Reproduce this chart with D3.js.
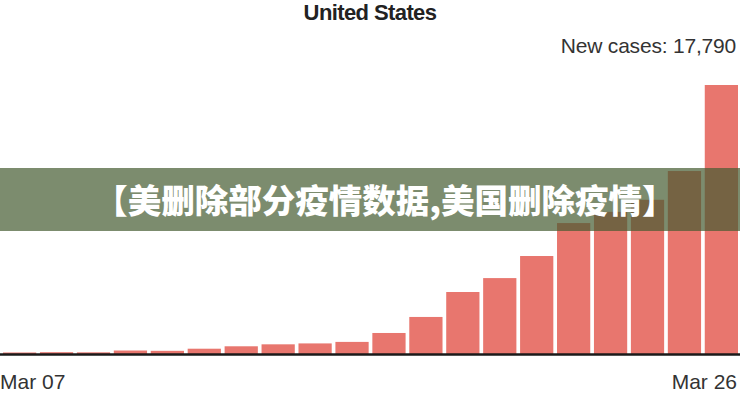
<!DOCTYPE html>
<html>
<head>
<meta charset="utf-8">
<script src="https://cdn.jsdelivr.net/npm/d3@7/dist/d3.min.js"></script>
<style>
  html, body { margin: 0; padding: 0; background: #fff; }
  svg { display: block; }
</style>
</head>
<body>
<svg id="chart" width="740" height="400"></svg>
<script>
const dates = ["Mar 07","Mar 08","Mar 09","Mar 10","Mar 11","Mar 12","Mar 13","Mar 14","Mar 15","Mar 16",
               "Mar 17","Mar 18","Mar 19","Mar 20","Mar 21","Mar 22","Mar 23","Mar 24","Mar 25","Mar 26"];
const newCases = [100, 120, 110, 230, 210, 350, 510, 640, 700, 800,
                  1390, 2450, 4100, 5020, 6480, 8660, 9400, 10200, 12100, 17790];
const axisLabels = ["Mar 07", "Mar 26"];
const titleText = "United States";
const annotationText = "New cases: 17,790";
const bannerText = "【美删除部分疫情数据,美国删除疫情】";

const svg = d3.select("#chart");
const W = 740, H = 400;
const baseY = 354, topY = 85;

const x = d3.scaleBand().domain(dates).range([3, 738]).paddingInner(0.1).paddingOuter(0);
const y = d3.scaleLinear().domain([0, d3.max(newCases)]).range([baseY, topY]);

svg.append("g").selectAll("rect")
  .data(dates.map((d, i) => ({ date: d, value: newCases[i] })))
  .join("rect")
  .attr("x", d => x(d.date))
  .attr("width", x.bandwidth())
  .attr("y", d => y(d.value))
  .attr("height", d => baseY - y(d.value))
  .attr("fill", "#e8766e");

svg.append("line")
  .attr("x1", 0).attr("x2", W)
  .attr("y1", baseY + 0.5).attr("y2", baseY + 0.5)
  .attr("stroke", "#1a1a1a").attr("stroke-width", 2.5);

svg.append("text")
  .attr("x", 370).attr("y", 20)
  .attr("text-anchor", "middle")
  .attr("font-family", "Liberation Sans, Arial, sans-serif")
  .attr("font-weight", "bold")
  .attr("font-size", 22)
  .attr("letter-spacing", -0.6)
  .attr("fill", "#222")
  .text(titleText);

svg.append("text")
  .attr("x", 736).attr("y", 53)
  .attr("text-anchor", "end")
  .attr("font-family", "Liberation Sans, Arial, sans-serif")
  .attr("font-size", 21)
  .attr("letter-spacing", -0.2)
  .attr("fill", "#333")
  .text(annotationText);

svg.append("text")
  .attr("x", 0).attr("y", 389)
  .attr("text-anchor", "start")
  .attr("font-family", "Liberation Sans, Arial, sans-serif")
  .attr("font-size", 21)
  .attr("fill", "#333")
  .text(axisLabels[0]);

svg.append("text")
  .attr("x", 737).attr("y", 389)
  .attr("text-anchor", "end")
  .attr("font-family", "Liberation Sans, Arial, sans-serif")
  .attr("font-size", 21)
  .attr("fill", "#333")
  .text(axisLabels[1]);

// overlay banner
svg.append("rect")
  .attr("x", 0).attr("y", 168).attr("width", W).attr("height", 63)
  .attr("fill", "rgb(69,91,48)").attr("fill-opacity", 0.7);

svg.append("text")
  .attr("x", 385).attr("y", 213)
  .attr("text-anchor", "middle")
  .attr("font-family", "Noto Sans CJK SC, sans-serif")
  .attr("font-weight", 900)
  .attr("font-size", 33.5)
  .attr("fill", "#fff")
  .text(bannerText);
</script>
</body>
</html>
